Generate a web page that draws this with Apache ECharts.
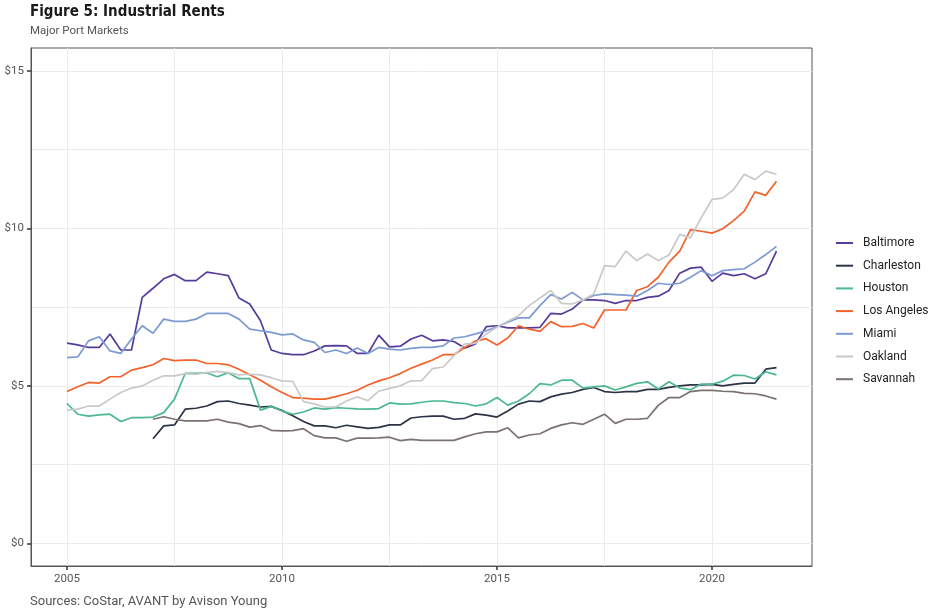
<!DOCTYPE html>
<html><head><meta charset="utf-8">
<script src="https://cdn.jsdelivr.net/npm/echarts@6/dist/echarts.min.js"></script>
<style>html,body{margin:0;padding:0;background:#fff}#c{width:930px;height:613px}</style>
</head><body><div id="c"></div><script>
// Quarterly observations, 2005 Q1 .. 2021 Q3
const quarters = Array.from({length: 67}, (_, i) => 2005 + i * 0.25);
const seriesNames = ['Baltimore', 'Charleston', 'Houston', 'Los Angeles', 'Miami', 'Oakland', 'Savannah'];
const seriesColors = ['#553c9a', '#2e3447', '#4bb892', '#f2622a', '#7b9ad4', '#c9c9c9', '#7c7171'];

const baltimore = [6.36,6.3,6.22,6.22,6.65,6.14,6.14,7.81,8.1,8.4,
  8.54,8.34,8.34,8.61,8.56,8.5,7.79,7.6,7.07,6.14,
  6.03,5.99,5.99,6.11,6.27,6.28,6.27,6.03,6.03,6.61,
  6.24,6.26,6.49,6.61,6.43,6.46,6.41,6.2,6.33,6.88,
  6.91,6.84,6.84,6.84,6.86,7.3,7.28,7.44,7.73,7.73,
  7.71,7.62,7.71,7.71,7.81,7.85,8.03,8.58,8.74,8.77,
  8.32,8.58,8.5,8.56,8.4,8.56,9.28];
const charleston = [null,null,null,null,null,null,null,null,3.32,3.73,
  3.76,4.26,4.29,4.36,4.5,4.52,4.44,4.39,4.33,4.35,
  4.22,4.05,3.87,3.73,3.73,3.67,3.75,3.7,3.65,3.68,
  3.76,3.76,3.98,4.02,4.04,4.04,3.94,3.97,4.11,4.07,
  4.01,4.2,4.42,4.52,4.5,4.65,4.74,4.79,4.89,4.95,
  4.82,4.79,4.82,4.82,4.89,4.89,4.95,5.0,5.03,5.03,
  5.05,5.0,5.05,5.09,5.09,5.53,5.58];
const houston = [4.44,4.1,4.04,4.08,4.1,3.87,3.99,3.99,4.01,4.15,
  4.58,5.4,5.4,5.41,5.29,5.42,5.23,5.23,4.23,4.35,
  4.2,4.1,4.17,4.3,4.26,4.31,4.29,4.27,4.26,4.28,
  4.46,4.42,4.43,4.48,4.52,4.52,4.47,4.44,4.36,4.43,
  4.63,4.39,4.52,4.75,5.07,5.03,5.18,5.18,4.93,4.97,
  5.0,4.87,4.97,5.08,5.13,4.9,5.13,4.93,4.88,5.06,
  5.05,5.15,5.34,5.33,5.22,5.45,5.35];
const losAngeles = [4.82,4.97,5.11,5.09,5.29,5.29,5.5,5.58,5.67,5.87,
  5.8,5.82,5.82,5.71,5.71,5.67,5.53,5.35,5.18,4.97,
  4.79,4.63,4.61,4.58,4.58,4.66,4.75,4.86,5.03,5.16,
  5.26,5.39,5.56,5.69,5.82,5.99,5.99,6.22,6.43,6.49,
  6.3,6.52,6.91,6.8,6.73,7.04,6.88,6.89,6.98,6.84,
  7.41,7.41,7.41,8.03,8.15,8.45,8.93,9.28,9.96,9.91,
  9.85,9.99,10.25,10.55,11.16,11.05,11.5];
const miami = [5.9,5.92,6.43,6.56,6.11,6.03,6.49,6.91,6.67,7.12,
  7.05,7.05,7.12,7.3,7.3,7.3,7.12,6.8,6.75,6.7,
  6.62,6.65,6.46,6.38,6.06,6.14,6.03,6.2,6.03,6.22,
  6.17,6.14,6.19,6.22,6.22,6.27,6.52,6.56,6.65,6.75,
  6.88,7.02,7.16,7.16,7.55,7.9,7.76,7.97,7.73,7.87,
  7.92,7.9,7.88,7.85,8.03,8.26,8.22,8.26,8.45,8.66,
  8.5,8.66,8.69,8.72,8.93,9.17,9.43];
const oakland = [4.23,4.26,4.36,4.36,4.58,4.79,4.93,5.0,5.18,5.32,
  5.32,5.39,5.37,5.42,5.46,5.42,5.35,5.37,5.35,5.26,
  5.16,5.14,4.5,4.43,4.33,4.33,4.52,4.65,4.53,4.83,
  4.92,5.0,5.16,5.17,5.55,5.6,5.96,6.33,6.35,6.65,
  6.86,7.05,7.23,7.55,7.79,8.03,7.62,7.6,7.73,7.92,
  8.82,8.79,9.28,8.98,9.19,8.98,9.16,9.81,9.7,10.34,
  10.92,10.96,11.23,11.72,11.55,11.82,11.72];
const savannah = [null,null,null,null,null,null,null,null,3.94,4.02,
  3.94,3.89,3.89,3.89,3.94,3.85,3.8,3.69,3.74,3.59,
  3.57,3.58,3.64,3.42,3.35,3.35,3.24,3.34,3.34,3.35,
  3.37,3.26,3.3,3.27,3.27,3.27,3.27,3.38,3.48,3.54,
  3.54,3.67,3.35,3.44,3.48,3.65,3.76,3.83,3.78,3.94,
  4.1,3.81,3.94,3.94,3.97,4.38,4.63,4.63,4.82,4.86,
  4.86,4.83,4.82,4.76,4.75,4.68,4.58];

const xTickLabels = [2005, 2010, 2015, 2020];
const xGridValues = [2005, 2007.5, 2010, 2012.5, 2015, 2017.5, 2020];
const yTickLabels = [0, 5, 10, 15];
const yGridValues = [0, 2.5, 5, 7.5, 10, 12.5, 15];

const allValues = [baltimore, charleston, houston, losAngeles, miami, oakland, savannah];

const FONT = 'Roboto, "Noto Sans", sans-serif';
const chart = echarts.init(document.getElementById('c'), null, {renderer: 'canvas'});

const series = seriesNames.map((name, k) => ({
  name: name,
  type: 'line',
  xAxisIndex: 0,
  yAxisIndex: 0,
  data: quarters.map((q, i) => [q, allValues[k][i]]).filter(d => d[1] !== null),
  showSymbol: false,
  symbol: 'none',
  lineStyle: {width: 1.7, color: seriesColors[k]},
  itemStyle: {color: seriesColors[k]},
  emphasis: {disabled: true},
  animation: false
}));

const xMin = 2004.163, xMax = 2022.326;
const yMin = -0.72, yMax = 15.73;
const BORDER = '#555';

chart.setOption({
  animation: false,
  title: [
    {text: 'Figure 5: Industrial Rents', subtext: 'Major Port Markets', left: 30, top: 5, padding: 0, itemGap: 5,
     textStyle: {fontFamily: '"Liberation Sans Narrow", "DejaVu Sans Condensed", sans-serif', fontWeight: 'bold', fontSize: 15, color: '#1a1a1a'},
     subtextStyle: {fontFamily: FONT, fontSize: 11.5, color: '#555'}},
    {text: 'Sources: CoStar, AVANT by Avison Young', left: 30, top: 595, padding: 0,
     textStyle: {fontFamily: FONT, fontWeight: 'normal', fontSize: 13, color: '#555'}}
  ],
  legend: {
    data: seriesNames, orient: 'vertical', left: 836, top: 236, padding: 0,
    icon: 'rect', itemWidth: 17, itemHeight: 2, itemGap: 8.7,
    textStyle: {fontFamily: FONT, fontSize: 12, color: '#222', lineHeight: 14, padding: [0, 0, 0, 5]},
    selectedMode: false
  },
  grid: {left: 31, right: 118, top: 48, bottom: 47, show: true, borderColor: BORDER, borderWidth: 1},
  xAxis: [
    {type: 'value', min: xMin, max: xMax,
     axisLine: {show: true, onZero: false, lineStyle: {color: BORDER, width: 1}},
     axisTick: {show: true, length: 4, lineStyle: {color: '#333', width: 1.5}, customValues: xTickLabels},
     axisLabel: {customValues: xTickLabels, color: '#555', fontSize: 11.5, fontFamily: FONT, margin: 7,
                 formatter: v => String(v)},
     splitLine: {show: false}},
    {type: 'value', min: xMin, max: xMax,
     axisLine: {show: false, onZero: false}, axisLabel: {show: false},
     axisTick: {show: false, customValues: xGridValues},
     splitLine: {show: true, lineStyle: {color: '#ebebeb', width: 1}}}
  ],
  yAxis: [
    {type: 'value', min: yMin, max: yMax,
     axisLine: {show: true, onZero: false, lineStyle: {color: BORDER, width: 1}},
     axisTick: {show: true, length: 4, lineStyle: {color: '#333', width: 1.5}, customValues: yTickLabels},
     axisLabel: {customValues: yTickLabels, color: '#555', fontSize: 11.5, fontFamily: FONT, margin: 7,
                 formatter: v => '$' + v},
     splitLine: {show: false}},
    {type: 'value', min: yMin, max: yMax,
     axisLine: {show: false, onZero: false}, axisLabel: {show: false},
     axisTick: {show: false, customValues: yGridValues},
     splitLine: {show: true, lineStyle: {color: '#ebebeb', width: 1}}}
  ],
  series: series
});
</script></body></html>
